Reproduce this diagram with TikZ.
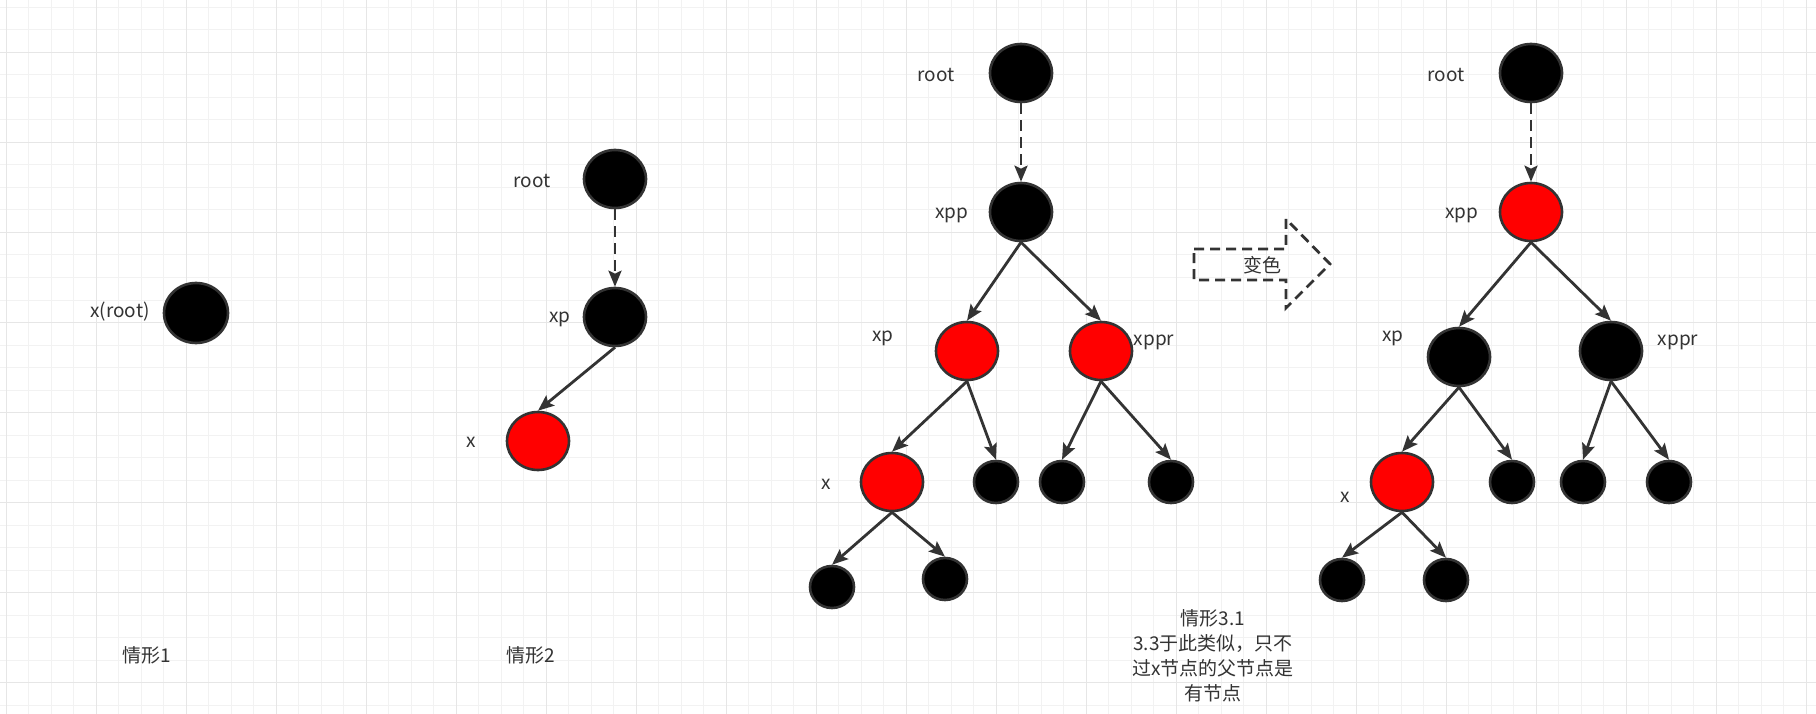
\documentclass[tikz,border=0pt]{standalone}
\usepackage{fontspec}
\setmainfont{Noto Sans CJK SC}
\usetikzlibrary{arrows.meta,shapes.geometric}
\definecolor{ink}{HTML}{333333}
\definecolor{gridminor}{HTML}{F2F2F2}
\definecolor{gridmajor}{HTML}{E6E6E6}
\definecolor{nodered}{HTML}{FF0000}
\begin{document}
\begin{tikzpicture}[x=1pt,y=-1pt,
  bignode/.style={ellipse,draw=ink,line width=2.6pt,minimum width=62pt,minimum height=58pt,inner sep=0pt},
  smallnode/.style={ellipse,draw=ink,line width=2.6pt,minimum width=44pt,minimum height=42pt,inner sep=0pt},
  blk/.style={fill=black},
  rd/.style={fill=nodered},
  lbl/.style={text=ink,font=\fontsize{19}{23}\selectfont,inner sep=0pt},
  edge/.style={draw=ink,line width=2.8pt,-{Stealth[length=16pt,width=13pt,inset=3pt]}},
  dedge/.style={edge,dash pattern=on 11pt off 6pt}
]
\useasboundingbox (0,0) rectangle (1816,714);
\fill[white] (0,0) rectangle (1816,714);
% grid
\foreach \i in {0,...,80}{
  \pgfmathsetmacro{\gx}{6+22.5*\i}
  \draw[gridminor,line width=1pt] (\gx,0) -- (\gx,714);
}
\foreach \i in {0,...,31}{
  \pgfmathsetmacro{\gy}{7.5+22.5*\i}
  \draw[gridminor,line width=1pt] (0,\gy) -- (1816,\gy);
}
\foreach \i in {0,...,20}{
  \pgfmathsetmacro{\gx}{6+90*\i}
  \draw[gridmajor,line width=1pt] (\gx,0) -- (\gx,714);
}
\foreach \i in {0,...,7}{
  \pgfmathsetmacro{\gy}{52.5+90*\i}
  \draw[gridmajor,line width=1pt] (0,\gy) -- (1816,\gy);
}

% case 1
\node[bignode,blk,minimum width=64pt,minimum height=60pt] (c1x) at (196,313) {};
\node[lbl] (c1xl) at (120,312) {x(root)};
\node[lbl] (c1t) at (147,655) {情形1};

% case 2
\node[bignode,blk] (c2root) at (615,179) {};
\node[bignode,blk] (c2xp) at (615,317) {};
\node[bignode,rd] (c2x) at (538,441) {};
\node[lbl] (c2rootl) at (532,181) {root};
\node[lbl] (c2xpl) at (560,319) {xp};
\node[lbl] (c2xl) at (471,442) {x};
\node[lbl] (c2t) at (531,655) {情形2};
\draw[dedge] (c2root.south) -- (c2xp.north);
\draw[edge] (c2xp.south) -- (c2x.north);

% case 3
\node[bignode,blk] (c3root) at (1021,73) {};
\node[bignode,blk] (c3xpp) at (1021,212) {};
\node[bignode,rd] (c3xp) at (967,351) {};
\node[bignode,rd] (c3xppr) at (1101,351) {};
\node[bignode,rd] (c3x) at (892,482) {};
\node[smallnode,blk] (c3s1) at (996,482) {};
\node[smallnode,blk] (c3s2) at (1062,482) {};
\node[smallnode,blk] (c3s3) at (1171,482) {};
\node[smallnode,blk] (c3c1) at (832,587) {};
\node[smallnode,blk] (c3c2) at (945,579) {};
\node[lbl] (c3rootl) at (936,75) {root};
\node[lbl] (c3xppl) at (952,215) {xpp};
\node[lbl] (c3xpl) at (883,338) {xp};
\node[lbl] (c3xpprl) at (1154,342) {xppr};
\node[lbl] (c3xl) at (826,484) {x};
\draw[dedge] (c3root.south) -- (c3xpp.north);
\draw[edge] (c3xpp.south) -- (c3xp.north);
\draw[edge] (c3xpp.south) -- (c3xppr.north);
\draw[edge] (c3xp.south) -- (c3x.north);
\draw[edge] (c3xp.south) -- (c3s1.north);
\draw[edge] (c3xppr.south) -- (c3s2.north);
\draw[edge] (c3xppr.south) -- (c3s3.north);
\draw[edge] (c3x.south) -- (c3c1.north);
\draw[edge] (c3x.south) -- (c3c2.north);
\node[lbl,align=center,font=\fontsize{19}{25}\selectfont] (c3t) at (1213,656) {情形3.1\\3.3于此类似，只不\\过x节点的父节点是\\有节点};

% arrow
\draw[ink,line width=2.8pt,dash pattern=on 10pt off 6pt,line join=miter]
  (1194,249) -- (1286,249) -- (1286,219) -- (1330,264) -- (1286,308) -- (1286,280) -- (1194,280) -- cycle;
\node[lbl] (arrl) at (1262,265) {变色};

% case 4
\node[bignode,blk] (c4root) at (1531,73) {};
\node[bignode,rd] (c4xpp) at (1531,212) {};
\node[bignode,blk] (c4xp) at (1459,357) {};
\node[bignode,blk] (c4xppr) at (1611,351) {};
\node[bignode,rd] (c4x) at (1402,482) {};
\node[smallnode,blk] (c4s1) at (1512,482) {};
\node[smallnode,blk] (c4s2) at (1583,482) {};
\node[smallnode,blk] (c4s3) at (1669,482) {};
\node[smallnode,blk] (c4c1) at (1342,580) {};
\node[smallnode,blk] (c4c2) at (1446,580) {};
\node[lbl] (c4rootl) at (1446,75) {root};
\node[lbl] (c4xppl) at (1462,215) {xpp};
\node[lbl] (c4xpl) at (1393,338) {xp};
\node[lbl] (c4xpprl) at (1678,342) {xppr};
\node[lbl] (c4xl) at (1345,497) {x};
\draw[dedge] (c4root.south) -- (c4xpp.north);
\draw[edge] (c4xpp.south) -- (c4xp.north);
\draw[edge] (c4xpp.south) -- (c4xppr.north);
\draw[edge] (c4xp.south) -- (c4x.north);
\draw[edge] (c4xp.south) -- (c4s1.north);
\draw[edge] (c4xppr.south) -- (c4s2.north);
\draw[edge] (c4xppr.south) -- (c4s3.north);
\draw[edge] (c4x.south) -- (c4c1.north);
\draw[edge] (c4x.south) -- (c4c2.north);
\end{tikzpicture}
\end{document}
